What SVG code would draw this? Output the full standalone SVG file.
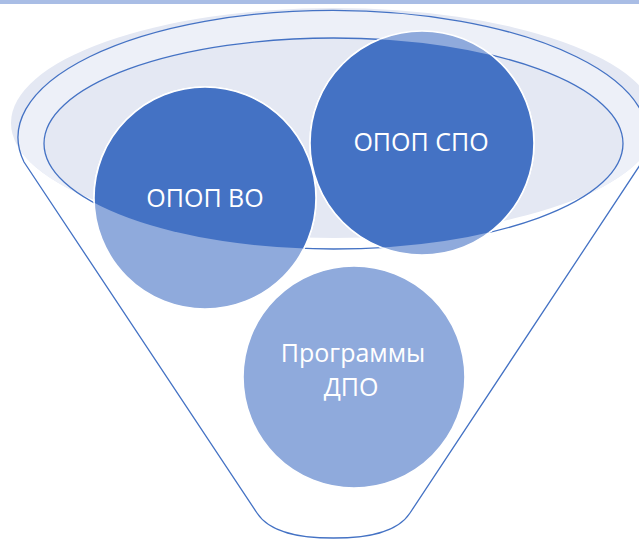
<svg xmlns="http://www.w3.org/2000/svg" width="639" height="539" viewBox="0 0 639 539">
  <style>
    .edge { fill: none; stroke: #4472c4; stroke-width: 1.3; }
    .light { fill: #8faadc; stroke: #ffffff; stroke-width: 1.6; }
    .dark { fill: #4472c4; stroke: #ffffff; stroke-width: 1.6; }
    .lbl { font-family: "Open Sans", "Noto Sans", "Liberation Sans", sans-serif; font-size: 25px; fill: #ffffff; text-anchor: middle; }
  </style>
  <defs>
    <clipPath id="fillClip">
      <ellipse cx="334" cy="123" rx="323" ry="115"/>
    </clipPath>
    <clipPath id="innerClip">
      <ellipse cx="333.5" cy="143.5" rx="289.5" ry="105.5"/>
    </clipPath>
  </defs>
  <rect x="0" y="0" width="639" height="539" fill="#ffffff"/>
  <rect x="0" y="0" width="639" height="4" fill="#a9bde5"/>

  <g id="funnel">
    <ellipse cx="334" cy="123" rx="323" ry="115" fill="#e4e8f3"/>
    <path clip-path="url(#fillClip)" fill="#edf0f8" fill-rule="evenodd"
      d="M18,137 A315,127 0 1,1 648,137 A315,127 0 1,1 18,137 Z M44,143.5 A289.5,105.5 0 1,0 623,143.5 A289.5,105.5 0 1,0 44,143.5 Z"/>
    <path class="edge" d="M24,162 A315,127 0 1,1 642,162 L410,513 C397,533 367,538 333.5,538 C300,538 270,533 257,513 Z"/>
    <ellipse class="edge" cx="333.5" cy="143.5" rx="289.5" ry="105.5"/>
  </g>

  <g id="connectors"/>

  <g id="node-opop-vo">
    <circle class="light" cx="205" cy="198" r="111"/>
    <circle class="dark" cx="205" cy="198" r="111" clip-path="url(#innerClip)"/>
    <text class="lbl" x="205" y="207">ОПОП ВО</text>
  </g>

  <g id="node-opop-spo">
    <circle class="light" cx="422" cy="143" r="112"/>
    <circle class="dark" cx="422" cy="143" r="112" clip-path="url(#innerClip)"/>
    <text class="lbl" x="421" y="151">ОПОП СПО</text>
  </g>

  <g id="node-dpo">
    <circle class="light" cx="354" cy="377" r="111"/>
    <text class="lbl" x="353" y="362">Программы</text>
    <text class="lbl" x="351" y="396">ДПО</text>
  </g>
</svg>
